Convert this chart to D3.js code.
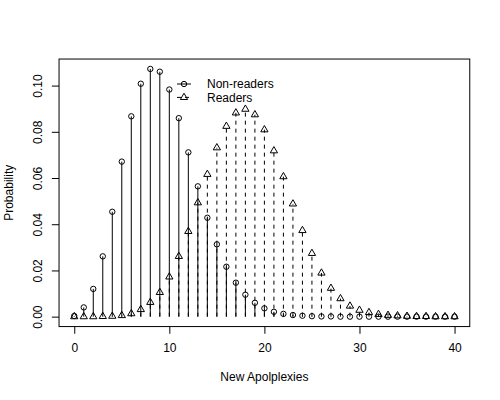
<!DOCTYPE html>
<html>
<head>
<meta charset="utf-8">
<script src="https://cdn.jsdelivr.net/npm/d3@7"></script>
<style>
body { margin: 0; background: #fff; }
svg { display: block; font-family: 'Liberation Sans', Arial, Helvetica, sans-serif; }
</style>
</head>
<body>
<svg width="500" height="400"></svg>
<script>
// number of new apoplexies (x categories)
const apoplexies = [0, 1, 2, 3, 4, 5, 6, 7, 8, 9, 10, 11, 12, 13, 14, 15, 16, 17, 18, 19, 20,
	21, 22, 23, 24, 25, 26, 27, 28, 29, 30, 31, 32, 33, 34, 35, 36, 37, 38, 39, 40]

// probabilities
const nonReaders = [0.0003, 0.0040, 0.0120, 0.0261, 0.0454, 0.0671, 0.0867, 0.1008, 0.1072, 0.1060,
	0.0983, 0.0859, 0.0711, 0.0564, 0.0428, 0.0313, 0.0216, 0.0147, 0.0095, 0.0060,
	0.0036, 0.0021, 0.0012, 0.0007, 0.0004, 0.0002, 0.0001, 0.0001, 0.0000, 0.0000,
	0.0000, 0.0000, 0.0000, 0.0000, 0.0000, 0.0000, 0.0000, 0.0000, 0.0000, 0.0000, 0.0000]

const readers = [0.0000, 0.0000, 0.0000, 0.0001, 0.0002, 0.0005, 0.0013, 0.0031, 0.0062, 0.0105,
	0.0172, 0.0261, 0.0369, 0.0493, 0.0616, 0.0731, 0.0824, 0.0882, 0.0898, 0.0874,
	0.0809, 0.0718, 0.0606, 0.0488, 0.0373, 0.0274, 0.0189, 0.0123, 0.0078, 0.0046,
	0.0028, 0.0018, 0.0010, 0.0006, 0.0004, 0.0002, 0.0001, 0.0001, 0.0000, 0.0000, 0.0000]

const xTicks = [0, 10, 20, 30, 40]
const yTicks = [0, 0.02, 0.04, 0.06, 0.08, 0.10]
const seriesNames = ['Non-readers', 'Readers']
const xTitle = 'New Apolplexies'
const yTitle = 'Probability'

// plot region (R default margins at 72 dpi)
const lineH = 14.4
const plotLeft = 4.1 * lineH, plotRight = 500 - 2.1 * lineH
const plotTop = 4.1 * lineH, plotBottom = 400 - 5.1 * lineH

const svg = d3.select('svg')

let xMin = d3.min(apoplexies), xMax = d3.max(apoplexies)
let xPad = (xMax - xMin) * 0.04
let xScale = d3.scaleLinear()
	.domain([xMin - xPad, xMax + xPad])
	.range([plotLeft, plotRight])

let yMax = d3.max(nonReaders.concat(readers))
let yPad = yMax * 0.04
let yScale = d3.scaleLinear()
	.domain([-yPad, yMax + yPad])
	.range([plotBottom, plotTop])

// box
svg.append('rect')
	.attr('x', plotLeft).attr('y', plotTop)
	.attr('width', plotRight - plotLeft).attr('height', plotBottom - plotTop)
	.attr('fill', 'none').attr('stroke', 'black').attr('stroke-width', 1)

// axes
let bottomAxisG = svg.append('g')
	.attr('transform', `translate(0, ${plotBottom})`)
	.call(d3.axisBottom(xScale).tickValues(xTicks).tickSize(lineH / 2))
bottomAxisG.select('.domain').remove()
bottomAxisG.selectAll('text')
	.attr('y', 1.8 * lineH).attr('dy', 0)
	.attr('font-size', 12).attr('font-family', null).attr('fill', 'black')

let leftAxisG = svg.append('g')
	.attr('transform', `translate(${plotLeft}, 0)`)
	.call(d3.axisLeft(yScale).tickValues(yTicks).tickSize(lineH / 2).tickFormat(d3.format('.2f')))
leftAxisG.select('.domain').remove()
leftAxisG.selectAll('text')
	.attr('x', 0).attr('dy', 0)
	.attr('transform', `translate(${-1.2 * lineH}, 0) rotate(-90)`)
	.attr('text-anchor', 'middle')
	.attr('font-size', 12).attr('font-family', null).attr('fill', 'black')
bottomAxisG.attr('font-family', null)
leftAxisG.attr('font-family', null)

svg.append('text')
	.attr('x', (plotLeft + plotRight) / 2).attr('y', plotBottom + 3.8 * lineH)
	.attr('text-anchor', 'middle').attr('font-size', 12)
	.text(xTitle)

svg.append('text')
	.attr('transform', `translate(${plotLeft - 3.2 * lineH}, ${(plotTop + plotBottom) / 2}) rotate(-90)`)
	.attr('text-anchor', 'middle').attr('font-size', 12)
	.text(yTitle)

// R pch sizes
const rad = 2.7
function triangle(cx, cy) {
	let r = 1.555 * rad, xc2 = 1.347 * rad, yc = 0.778 * rad
	return `M${cx},${cy - r}L${cx + xc2},${cy + yc}L${cx - xc2},${cy + yc}Z`
}

let nonData = apoplexies.map((x, i) => ({ x: x, y: nonReaders[i] }))
let readData = apoplexies.map((x, i) => ({ x: x, y: readers[i] }))

// non-readers: solid spikes + open circles
svg.append('g').selectAll('line')
	.data(nonData)
	.enter()
	.append('line')
	.attr('x1', d => xScale(d.x)).attr('x2', d => xScale(d.x))
	.attr('y1', yScale(0)).attr('y2', d => yScale(d.y))
	.attr('stroke', 'black').attr('stroke-width', 1)

svg.append('g').selectAll('circle')
	.data(nonData)
	.enter()
	.append('circle')
	.attr('cx', d => xScale(d.x)).attr('cy', d => yScale(d.y))
	.attr('r', rad)
	.attr('fill', 'none').attr('stroke', 'black').attr('stroke-width', 1)

// readers: dashed spikes + open triangles
svg.append('g').selectAll('line')
	.data(readData)
	.enter()
	.append('line')
	.attr('x1', d => xScale(d.x)).attr('x2', d => xScale(d.x))
	.attr('y1', yScale(0)).attr('y2', d => yScale(d.y))
	.attr('stroke', 'black').attr('stroke-width', 1)
	.attr('stroke-dasharray', '4,4')

svg.append('g').selectAll('path')
	.data(readData)
	.enter()
	.append('path')
	.attr('d', d => triangle(xScale(d.x), yScale(d.y)))
	.attr('fill', 'none').attr('stroke', 'black').attr('stroke-width', 1)

// legend
let legend = svg.append('g')
seriesNames.forEach((name, i) => {
	let ly = 84 + i * 13.4
	legend.append('line')
		.attr('x1', 177).attr('x2', 191).attr('y1', ly).attr('y2', ly)
		.attr('stroke', 'black').attr('stroke-width', 1)
		.attr('stroke-dasharray', i === 1 ? '4,4' : null)
	if (i === 0) {
		legend.append('circle')
			.attr('cx', 184).attr('cy', ly).attr('r', rad)
			.attr('fill', 'none').attr('stroke', 'black')
	} else {
		legend.append('path')
			.attr('d', triangle(184, ly))
			.attr('fill', 'none').attr('stroke', 'black')
	}
	legend.append('text')
		.attr('x', 207).attr('y', ly + 4.3)
		.attr('font-size', 12)
		.text(name)
})
</script>
</body>
</html>
